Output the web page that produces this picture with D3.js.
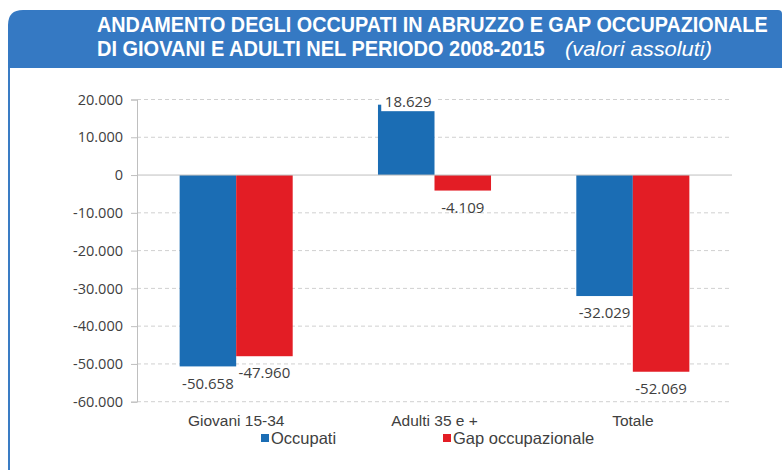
<!DOCTYPE html>
<meta charset="utf-8">
<script src="https://d3js.org/d3.v7.min.js"></script>
<style>
  body { margin: 0; background: #fff; }
  svg text { font-family: 'Open Sans', 'Liberation Sans', sans-serif; fill: #404040; }
</style>
<div id="chart"></div>
<script>
// data
var categories = ["Giovani 15-34", "Adulti 35 e +", "Totale"];
var seriesNames = ["Occupati", "Gap occupazionale"];
var occupati = [-50658, 18629, -32029];
var gap = [-47960, -4109, -52069];
var yTicks = [20000, 10000, 0, -10000, -20000, -30000, -40000, -50000, -60000];
var titleLine1 = "ANDAMENTO DEGLI OCCUPATI  IN ABRUZZO E GAP OCCUPAZIONALE";
var titleLine2 = "DI GIOVANI E ADULTI NEL PERIODO 2008-2015";
var titleNote = "(valori assoluti)";

var colors = { "Occupati": "#1b6db4", "Gap occupazionale": "#e31d25" };

var W = 783, H = 470;
var svg = d3.select("#chart").append("svg").attr("width", W).attr("height", H);

// frame: left blue border + header with rounded corners
svg.append("rect").attr("x", 8).attr("y", 30).attr("width", 2).attr("height", H - 30).attr("fill", "#3a7cc4");
svg.append("path")
  .attr("d", "M8,68 L8,25 Q8,10 23,10 L778,10 Q782,10 782,14 L782,68 Z")
  .attr("fill", "#3579c3");

var fmt = function(v) {
  return d3.format(",")(v).replace(/,/g, ".").replace("−", "-");
};

// title: squeeze each piece horizontally to the width it has in the picture
function fitText(x, yb, str, width, size, weight, style) {
  var el = svg.append("text").attr("x", 0).attr("y", 0).text(str)
    .style("fill", "#fff").style("font-weight", weight).style("font-style", style)
    .style("font-size", size + "px")
    .style("font-family", "'Liberation Sans', sans-serif");
  var w = el.node().getComputedTextLength();
  el.attr("transform", "translate(" + x + "," + yb + ") scale(" + (width / w) + ",1)");
}
fitText(97, 32, titleLine1, 671, 22, "bold", "normal");
fitText(97, 56, titleLine2, 448, 22, "bold", "normal");
fitText(565, 56, titleNote, 147, 21, "normal", "italic");

// scales
var left = 137, right = 732;
var y = d3.scaleLinear().domain([-60000, 20000]).range([401.7, 99.5]);
var x0 = d3.scaleBand().domain(categories).range([left, right]).paddingInner(0.43).paddingOuter(0.215);
var x1 = d3.scaleBand().domain(seriesNames).range([0, x0.bandwidth()]).padding(0);

// gridlines
svg.append("g").selectAll("line").data(yTicks.filter(function(d) { return d !== 0; }))
  .join("line")
  .attr("x1", left).attr("x2", right)
  .attr("y1", function(d) { return y(d); }).attr("y2", function(d) { return y(d); })
  .attr("stroke", "#d0d0d0").attr("stroke-width", 1).attr("stroke-dasharray", "4,3");

// y axis
var yAxis = svg.append("g").attr("transform", "translate(" + left + ",0)")
  .call(d3.axisLeft(y).tickValues(yTicks).tickSize(6).tickPadding(8).tickFormat(fmt));
yAxis.select(".domain").attr("stroke", "#bfbfbf");
yAxis.selectAll(".tick line").attr("stroke", "#bfbfbf");
yAxis.selectAll(".tick text").style("font-size", "14.5px").style("fill", "#404040")
  .style("font-family", "'Open Sans', 'Liberation Sans', sans-serif");

// bars
var rows = categories.map(function(c, i) {
  return [{ cat: c, s: seriesNames[0], v: occupati[i] }, { cat: c, s: seriesNames[1], v: gap[i] }];
});
var groups = svg.append("g").selectAll("g").data(rows).join("g")
  .attr("transform", function(d, i) { return "translate(" + x0(categories[i]) + ",0)"; });
groups.selectAll("rect").data(function(d) { return d; }).join("rect")
  .attr("x", function(d) { return x1(d.s); })
  .attr("width", x1.bandwidth())
  .attr("y", function(d) { return Math.min(y(d.v), y(0)); })
  .attr("height", function(d) { return Math.abs(y(d.v) - y(0)); })
  .attr("fill", function(d) { return colors[d.s]; });

// zero line
svg.append("line").attr("x1", left).attr("x2", right).attr("y1", y(0)).attr("y2", y(0))
  .attr("stroke", "#bfbfbf").attr("stroke-width", 1);

// value labels (the positive one sits on a white box, as in the original)
groups.each(function(d) {
  var g = d3.select(this);
  d.forEach(function(p) {
    var cx = x1(p.s) + x1.bandwidth() / 2;
    var cy = p.v >= 0 ? y(p.v) - 3 : y(p.v) + 17;
    if (p.v >= 0) {
      cx += 2;
      g.append("rect").attr("x", cx - 27).attr("y", cy - 9.5).attr("width", 54).attr("height", 19).attr("fill", "#fff");
    }
    g.append("text").attr("x", cx).attr("y", cy).attr("dy", "0.35em")
      .attr("text-anchor", "middle").style("font-size", "15px").text(fmt(p.v));
  });
});

// category labels
svg.append("g").selectAll("text").data(categories).join("text")
  .attr("x", function(d) { return x0(d) + x0.bandwidth() / 2; })
  .attr("y", 420.5).attr("dy", "0.35em").attr("text-anchor", "middle")
  .style("font-family", "'Liberation Sans', sans-serif")
  .style("font-size", "15.5px").text(function(d) { return d; });

// legend
var legendX = [261, 443];
var lg = svg.append("g").selectAll("g").data(seriesNames).join("g")
  .attr("transform", function(d, i) { return "translate(" + legendX[i] + ",438)"; });
lg.append("rect").attr("x", 0).attr("y", -4).attr("width", 8).attr("height", 8)
  .attr("fill", function(d) { return colors[d]; });
lg.append("text").attr("x", 10).attr("y", 0).attr("dy", "0.35em")
  .style("font-family", "'Liberation Sans', sans-serif")
  .style("font-size", "16.5px").text(function(d) { return d; });
</script>
